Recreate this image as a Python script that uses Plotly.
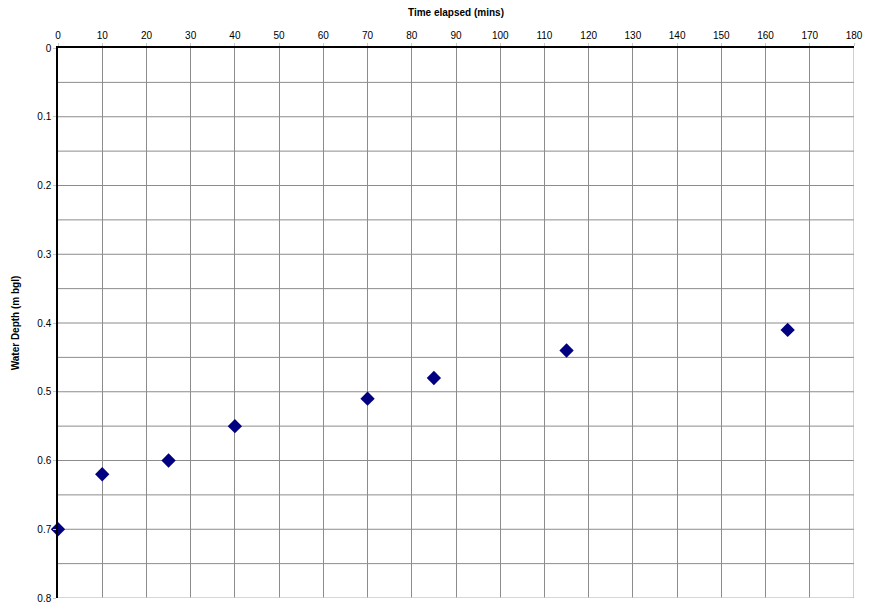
import plotly.graph_objects as go

# Recovery readings: time since start vs depth to water below ground level
time_mins = [0, 10, 25, 40, 70, 85, 115, 165]
depth_m = [0.70, 0.62, 0.60, 0.55, 0.51, 0.48, 0.44, 0.41]

x_ticks = list(range(0, 181, 10))
y_ticks = [0, 0.1, 0.2, 0.3, 0.4, 0.5, 0.6, 0.7, 0.8]
y_tick_text = ["0", "0.1", "0.2", "0.3", "0.4", "0.5", "0.6", "0.7", "0.8"]

fig = go.Figure()
fig.add_trace(go.Scatter(
    x=time_mins, y=depth_m, mode="markers",
    marker=dict(symbol="diamond", size=11, color="#000080",
                line=dict(width=0)),
    cliponaxis=False, showlegend=False,
))

font = dict(family="Liberation Sans, Arial, sans-serif", size=10, color="#000000")

fig.update_layout(
    width=871, height=603,
    margin=dict(l=58, r=17, t=48, b=5, autoexpand=False),
    paper_bgcolor="white", plot_bgcolor="white",
    font=font,
    xaxis=dict(
        side="top", range=[0, 180], tickvals=x_ticks,
        showgrid=True, gridcolor="#8c8c8c", gridwidth=1,
        showline=True, linecolor="#000000", linewidth=1.5,
        ticks="outside", ticklen=3, tickcolor="#c8c8c8",
        zeroline=False, mirror=False, ticklabeloverflow="allow",
        automargin=False,
        title=dict(text="<b>Time elapsed (mins)</b>", standoff=12,
                   font=dict(size=10)),
    ),
    yaxis=dict(
        range=[0.8, 0], tickvals=y_ticks, ticktext=y_tick_text,
        showgrid=False, ticklabeloverflow="allow", automargin=False,
        showline=True, linecolor="#000000", linewidth=1.5,
        ticks="outside", ticklen=3, tickcolor="#c8c8c8",
        zeroline=False,
        title=dict(text="<b>Water Depth (m bgl)</b>", standoff=16,
                   font=dict(size=10)),
    ),
)

# Horizontal grid every 0.05 m, right edge and bottom edge in light grey
shapes = []
for i in range(1, 16):
    v = i * 0.05
    shapes.append(dict(type="line", xref="paper", yref="y", x0=0, x1=1,
                       y0=v, y1=v, line=dict(color="#8c8c8c", width=1),
                       layer="below"))
shapes.append(dict(type="line", xref="paper", yref="y", x0=0, x1=1,
                   y0=0.8, y1=0.8, line=dict(color="#c8c8c8", width=1.5)))
shapes.append(dict(type="line", xref="x", yref="paper", x0=180, x1=180,
                   y0=0, y1=1, line=dict(color="#a0a0a0", width=1)))
fig.update_layout(shapes=shapes)

fig.write_html("out.html")
